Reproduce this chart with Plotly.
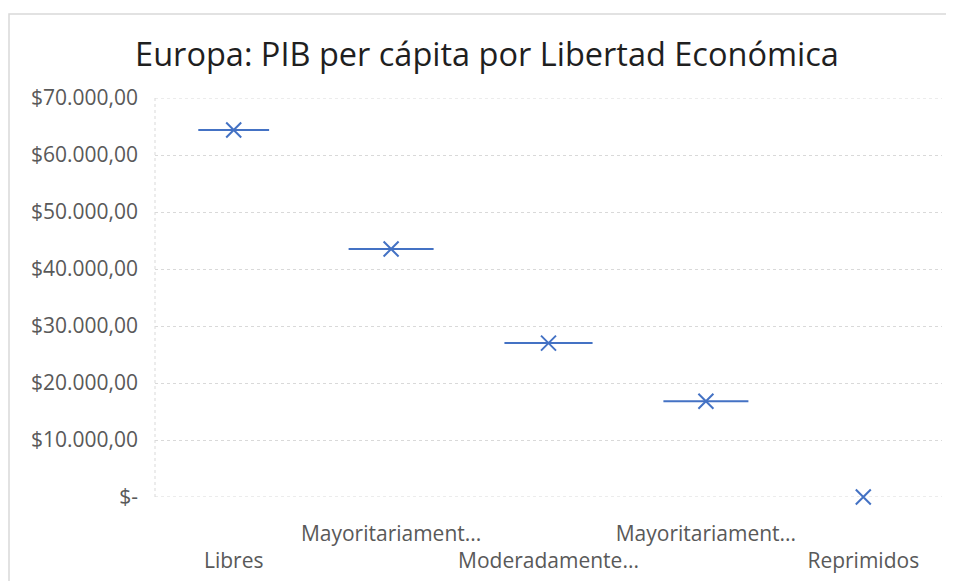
import plotly.graph_objects as go

# ---- data ----
categories = ["Libres", "Mayoritariamente libres", "Moderadamente libres",
              "Mayoritariamente no libres", "Reprimidos"]
tick_labels_x = ["<br>Libres", "Mayoritariament...", "<br>Moderadamente...",
                 "Mayoritariament...", "<br>Reprimidos"]
gdp_values = [64400, 43500, 27000, 16800, 0]
y_tick_vals = [0, 10000, 20000, 30000, 40000, 50000, 60000, 70000]
y_tick_labels = ["$-", "$10.000,00", "$20.000,00", "$30.000,00", "$40.000,00",
                 "$50.000,00", "$60.000,00", "$70.000,00"]
title_text = "Europa: PIB per cápita por Libertad Económica"

# ---- styles ----
BLUE = "#4472C4"
GRID = "#d9d9d9"
TXT = "#595959"
box_widths = [0.45, 0.54, 0.56, 0.54, 0.0]

OFF = 8  # page body margin offset
W, H = 954 - OFF, 581 - OFF
ML, MR, MT, MB = 155 - OFF, 12, 98 - OFF, 84
PW, PH = W - ML - MR, H - MT - MB

fig = go.Figure()
for cat, val, bw in zip(categories, gdp_values, box_widths):
    if bw <= 0:
        continue
    fig.add_trace(go.Box(
        x=[cat], y=[val], width=bw, boxpoints=False,
        line=dict(color=BLUE, width=2), fillcolor="rgba(0,0,0,0)",
        whiskerwidth=0, hoverinfo="skip", showlegend=False))

fig.add_trace(go.Scatter(
    x=categories, y=gdp_values, mode="markers",
    marker=dict(symbol="x-thin", size=15, color=BLUE,
                line=dict(color=BLUE, width=2)),
    showlegend=False, cliponaxis=False))

def px2paper_x(px):
    return (px - OFF - ML) / PW

def px2paper_y(py):
    return (H - MB - (py - OFF)) / PH

y_min, y_max = y_tick_vals[0], y_tick_vals[-1]

fig.update_layout(
    width=W, height=H,
    margin=dict(l=ML, r=MR, t=MT, b=MB, autoexpand=False),
    paper_bgcolor="white", plot_bgcolor="white",
    boxmode="overlay",
    title=dict(text=title_text, x=(487 - OFF) / W, xref="container", xanchor="center",
               y=1 - (55 - OFF) / H, yref="container", yanchor="middle",
               font=dict(family="Open Sans", size=32.5, color="#1f1f1f")),
    font=dict(family="Open Sans", size=21, color=TXT),
    xaxis=dict(type="category", categoryorder="array", categoryarray=categories,
               tickvals=categories, ticktext=tick_labels_x,
               range=[-0.5, len(categories) - 0.5],
               showgrid=False, zeroline=False, showline=False,
               ticks="", ticklen=0, ticklabelstandoff=22, tickangle=0,
               automargin=False,
               tickfont=dict(family="Open Sans", size=21, color=TXT)),
    yaxis=dict(range=[y_min, y_max], tickvals=y_tick_vals, ticktext=y_tick_labels,
               showgrid=True, gridcolor=GRID, griddash="dot", gridwidth=1,
               zeroline=False, showline=False, ticks="", ticklabelstandoff=16,
               automargin=False,
               tickfont=dict(family="Open Sans", size=21, color=TXT)),
    shapes=[
        dict(type="line", xref="paper", yref="paper", x0=0, x1=0, y0=0, y1=1,
             line=dict(color=GRID, width=1, dash="dot"), layer="below"),
        dict(type="line", xref="paper", yref="y", x0=0, x1=1, y0=y_min, y1=y_min,
             line=dict(color=GRID, width=1, dash="dot"), layer="below"),
        dict(type="line", xref="paper", yref="y", x0=0, x1=1, y0=y_max, y1=y_max,
             line=dict(color=GRID, width=1, dash="dot"), layer="below"),
        dict(type="rect", xref="paper", yref="paper",
             x0=px2paper_x(9), x1=px2paper_x(954 + 10),
             y0=px2paper_y(581 + 10), y1=px2paper_y(14),
             line=dict(color=GRID, width=1.5), fillcolor="rgba(0,0,0,0)",
             layer="below"),
    ],
)

fig.write_html("out.html")
